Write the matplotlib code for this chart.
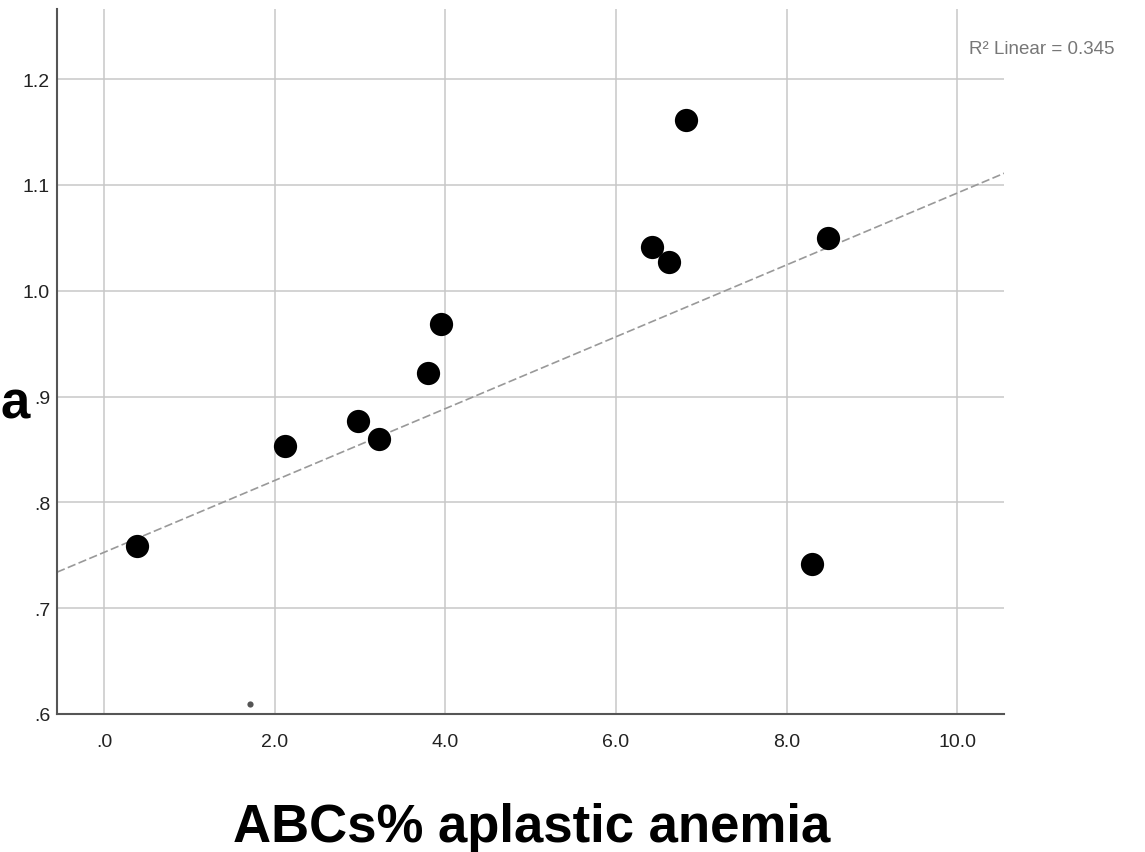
import matplotlib
matplotlib.use("Agg")
import matplotlib.pyplot as plt
import numpy as np

plt.rcParams['font.family'] = ['Liberation Sans', 'DejaVu Sans']

# Data
x_vals = [0.39, 2.12, 2.98, 3.22, 3.80, 3.95, 6.42, 6.62, 6.82, 8.49, 8.30]
y_vals = [0.759, 0.853, 0.877, 0.860, 0.922, 0.969, 1.041, 1.027, 1.161, 1.050, 0.742]
small_x = [1.71]
small_y = [0.609]
fit_intercept = 0.7527
fit_slope = 0.03396
r2_text = "R\u00b2 Linear = 0.345"
x_ticks = [0, 2, 4, 6, 8, 10]
x_tick_labels = [".0", "2.0", "4.0", "6.0", "8.0", "10.0"]
y_ticks = [0.6, 0.7, 0.8, 0.9, 1.0, 1.1, 1.2]
y_tick_labels = [".6", ".7", ".8", ".9", "1.0", "1.1", "1.2"]
x_label = "ABCs% aplastic anemia"
y_label_fragment = "a"

fig = plt.figure(figsize=(11.45, 8.53), dpi=100)
ax = fig.add_axes([0.0498, 0.1618, 0.8272, 0.8262])
xlim = (-0.55, 10.55)
ylim = (0.6, 1.266)
ax.set_xlim(*xlim)
ax.set_ylim(*ylim)

ax.set_xticks(x_ticks)
ax.set_xticklabels(x_tick_labels)
ax.set_yticks(y_ticks)
ax.set_yticklabels(y_tick_labels)
ax.tick_params(axis='both', length=0, labelsize=14, colors='#222222')
ax.tick_params(axis='x', pad=14)
ax.tick_params(axis='y', pad=5)

ax.grid(True, color='#c8c8c8', linewidth=1.1)
ax.set_axisbelow(True)
for s in ['top', 'right']:
    ax.spines[s].set_visible(False)
for s in ['left', 'bottom']:
    ax.spines[s].set_color('#555555')
    ax.spines[s].set_linewidth(1.5)

xs = np.array(xlim)
ax.plot(xs, fit_intercept + fit_slope * xs, linestyle=(0, (5, 2)), color='#999999',
        linewidth=1.2, zorder=2)

ax.scatter(x_vals, y_vals, s=280, color='black', zorder=3, linewidths=0)
ax.scatter(small_x, small_y, s=20, color='#555555', zorder=3, linewidths=0)

fig.text(969 / 1145, 1 - 50 / 853, r2_text, fontsize=13.5, color='#777777',
         ha='left', va='center')

fig.text(532 / 1145, 1 - 828 / 853, x_label, fontsize=38, fontweight='bold',
         ha='center', va='center', color='black')
fig.text(30 / 1145, 1 - 405 / 853, y_label_fragment, fontsize=38, fontweight='bold',
         ha='right', va='center', color='black')

fig.savefig("out.png", dpi=100)
